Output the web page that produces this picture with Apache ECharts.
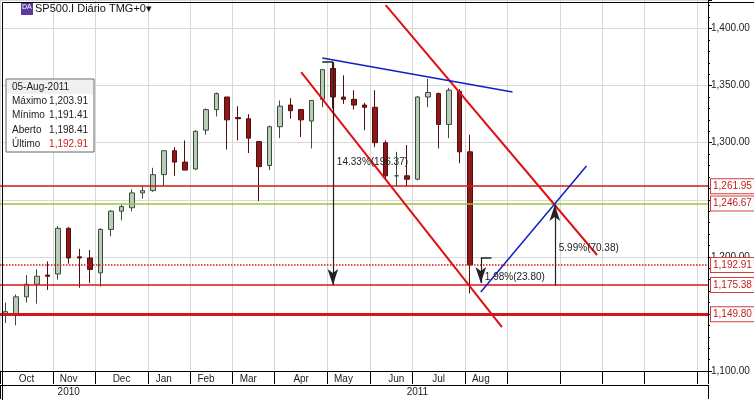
<!DOCTYPE html>
<html><head><meta charset="utf-8">
<script src="https://cdn.jsdelivr.net/npm/echarts@6/dist/echarts.min.js"></script>
<style>html,body{margin:0;background:#fff}#c{width:754px;height:400px}</style>
</head><body><div id="c"></div>
<script>
// Weekly OHLC [open, close, low, high] (Oct 2010 - Aug 2011)
var ohlc = [
[1150,1152,1142,1160],[1150,1165,1140,1167],[1165,1176,1160,1184],[1176,1183,1159,1189],
[1184,1183,1171,1196],[1185,1225,1180,1227],[1225,1199,1194,1226],[1200,1199,1173,1207],
[1199,1189,1177,1206],[1186,1224,1174,1225],[1224,1240,1218,1241],[1240,1244,1232,1246],
[1243,1256,1240,1259],[1256,1258,1251,1262],[1258,1272,1257,1278],[1272,1293,1262,1293],
[1293,1283,1271,1296],[1283,1276,1276,1302],[1277,1310,1276,1311],[1311,1329,1307,1330],
[1329,1343,1323,1344],[1340,1320,1294,1340],[1322,1321,1302,1332],[1321,1304,1291,1325],
[1301,1279,1249,1301],[1280,1314,1276,1315],[1314,1332,1304,1337],[1333,1328,1321,1339],
[1329,1320,1305,1329],[1319,1337,1295,1337],[1338,1364,1331,1364],[1365,1340,1330,1371],
[1340,1338,1334,1359],[1338,1333,1329,1346],[1333,1331,1311,1335],[1331,1300,1296,1346],
[1300,1271,1268,1302],[1271,1271,1262,1292],[1271,1268,1262,1298],[1268,1340,1267,1341],
[1340,1344,1331,1356],[1343,1316,1295,1344],[1316,1346,1304,1348],[1345,1292,1282,1347],
[1292,1192.91,1168,1307]
];
var levels = [1261.95, 1246.67, 1192.91, 1175.38, 1149.80];
var yTickLabels = [1100, 1200, 1300, 1350, 1400];
var info = [['Máximo','1,203.91'],['Mínimo','1,191.41'],['Aberto','1,198.41'],['Último','1,192.91']];
// trendlines [[idx,val],[idx,val]]
var trendBlueTop = [[30.26,1374.2],[47.57,1344.4]];
var trendBlack = [[32.15,1402.2],[66.5,1234.0]];
var trendRedUp = [[36.03,1420.6],[56.0,1201.6]];
var trendRedLow = [[27.6,1361.9],[47.3,1138.5]];
var trendBlueUp = [[44.64,1169.2],[55.24,1279.6]];
var meas = [
 {x:30.6, from:1370.7, to:1175.3, text:'14.33%(196.37)'},
 {x:45.2, from:1199.0, to:1177.0, text:'1.98%(23.80)'},
 {x:52.1, from:1175.0, to:1245.5, text:'5.99%(70.38)'}
];

var N = 67, cats = [], d0 = new Date(Date.UTC(2010,9,1));
for (var i=0;i<N;i++){ cats.push(new Date(d0.getTime()+i*7*864e5)); }
var catNames = cats.map(function(d){return d.toISOString().slice(0,10);});
var mon = ['Jan','Feb','Mar','Apr','May','Jun','Jul','Aug','Sep','Oct','Nov','Dec'];
function firstOfMonth(i){ return i===0 || cats[i].getUTCMonth()!==cats[i-1].getUTCMonth(); }
function midMonth(i){ var dd=cats[i].getUTCDate(); return dd>=11&&dd<=17 && cats[i]<new Date(Date.UTC(2011,8,1)); }
function fmt(v){ return v.toLocaleString('en-US',{minimumFractionDigits:2,maximumFractionDigits:2}); }

var ml = [];
function seg(a,b,color,w,sym,type){
  ml.push([{coord:a,symbol:sym?sym[0]:'none',lineStyle:{color:color,width:w,type:type||'solid'}},
           {coord:b,symbol:sym?sym[1]:'none'}]);
}
seg(trendRedUp[0],trendRedUp[1],'#e01010',2);
seg(trendRedLow[0],trendRedLow[1],'#e01010',2);
seg(trendBlack[0],trendBlack[1],'#000',1);
seg(trendBlueTop[0],trendBlueTop[1],'#1020c0',1.5);
seg(trendBlueUp[0],trendBlueUp[1],'#1020c0',1.5);
meas.forEach(function(m){
  seg([m.x,m.from],[m.x,m.to],'#222',1.2,['none','arrow']);
  seg([m.x-0.3,m.from],[m.x+0.3,m.from],'#222',1.5);
});
var lvlStyle = [
 {color:'#d01818',width:1.5,type:'solid'},{color:'#9cc23a',width:1.5,type:'solid'},
 {color:'#d01818',width:1.5,type:'dotted'},{color:'#d01818',width:1.5,type:'solid'},
 {color:'#d01818',width:3,type:'solid'}];
var lvlLines = levels.map(function(v,k){
  return {yAxis:v, symbol:'none', lineStyle:lvlStyle[k],
    label:{show:true,position:'end',distance:3,formatter:fmt(v),color:'#c02020',fontSize:10,
      backgroundColor:'#fff',borderColor:'#d04040',borderWidth:1,padding:[2,2]}};
});

var infoG = [
  {type:'rect',x:6,y:79,z:100,shape:{width:88,height:73},style:{fill:'#fff',stroke:'#666',lineWidth:1}},
  {type:'rect',x:7,y:80,z:100,shape:{width:86,height:14},style:{fill:'#f0f0f0'}},
  {type:'text',x:12,y:82,z:101,style:{text:'05-Aug-2011',fill:'#222',font:'10px Arial, Liberation Sans'}}
];
info.forEach(function(r,k){
  infoG.push({type:'text',x:12,y:96+k*14.5,z:101,style:{text:r[0],fill:'#222',font:'10px Arial, Liberation Sans'}});
  infoG.push({type:'text',x:88,y:96+k*14.5,z:101,style:{text:r[1],align:'right',fill:k===3?'#d02020':'#222',font:'10px Arial, Liberation Sans'}});
});

var chart = echarts.init(document.getElementById('c'));
chart.setOption({
  animation:false,
  grid:{left:0,right:46,top:0,bottom:29},
  xAxis:[{type:'category',data:catNames,boundaryGap:true,
    axisLine:{lineStyle:{color:'#000'}},
    axisTick:{show:true,length:13,interval:function(i){return firstOfMonth(i);},lineStyle:{color:'#000'}},
    axisLabel:{interval:function(i){return midMonth(i);},formatter:function(v,i){return mon[cats[i].getUTCMonth()];},
      color:'#222',fontSize:10,margin:3,fontFamily:'Arial, Liberation Sans'},
    splitLine:{show:true,interval:function(i){return firstOfMonth(i);},lineStyle:{color:'#d8d8d8'}}},
   {type:'category',data:catNames,position:'bottom',offset:14,boundaryGap:true,
    axisLine:{lineStyle:{color:'#000'}},
    axisTick:{show:true,length:14,interval:function(i){return i===14;},lineStyle:{color:'#000'}},
    axisLabel:{interval:function(i){return i===6||i===39;},formatter:function(v,i){return i<14?'2010':'2011';},
      color:'#222',fontSize:10,margin:2,fontFamily:'Arial, Liberation Sans'}}],
  yAxis:{type:'value',position:'right',min:1100,max:1425,interval:50,
    axisLine:{show:true,lineStyle:{color:'#000'}},
    axisTick:{show:true,length:4,lineStyle:{color:'#000'}},
    minorTick:{show:true,splitNumber:5,length:2,lineStyle:{color:'#000'}},
    splitLine:{lineStyle:{color:'#d8d8d8'}},
    axisLabel:{color:'#222',fontSize:10,margin:3,fontFamily:'Arial, Liberation Sans',
      formatter:function(v){return yTickLabels.indexOf(v)>=0?fmt(v):'';}}},
  series:[{type:'candlestick',data:ohlc,barWidth:5,
    itemStyle:{color:'#b8ccb8',color0:'#8a1a1a',borderColor:'#3c4c3c',borderColor0:'#5a0c0c',borderWidth:1},
    markLine:{silent:true,symbol:'none',animation:false,label:{show:false},data:lvlLines.concat(ml)},
    z:3}],
  graphic:[
    {type:'rect',left:0,top:0,z:100,shape:{width:753,height:399},style:{fill:'none',stroke:'#000',lineWidth:1},silent:true},
    {type:'rect',left:21,top:3,z:100,shape:{width:12,height:12},style:{fill:'#5a3aa0'}},
    {type:'text',left:22,top:4,z:101,style:{text:'DA',fill:'#fff',font:'7px Arial'}},
    {type:'text',left:35,top:3,z:101,style:{text:'SP500.I Diário TMG+0▾',fill:'#111',font:'11px Arial, Liberation Sans'}}
  ].concat(infoG)
});
var gtexts = meas.map(function(m,k){
  var p = chart.convertToPixel({xAxisIndex:0,yAxisIndex:0},[m.x, k===0?1282:(k===1?1181:1207)]);
  return {type:'text',id:'m'+k,x:p[0]+4,y:p[1]-6,z:50,style:{text:m.text,fill:'#222',font:'10px Arial, Liberation Sans'}};
});
chart.setOption({graphic:gtexts});
</script></body></html>
